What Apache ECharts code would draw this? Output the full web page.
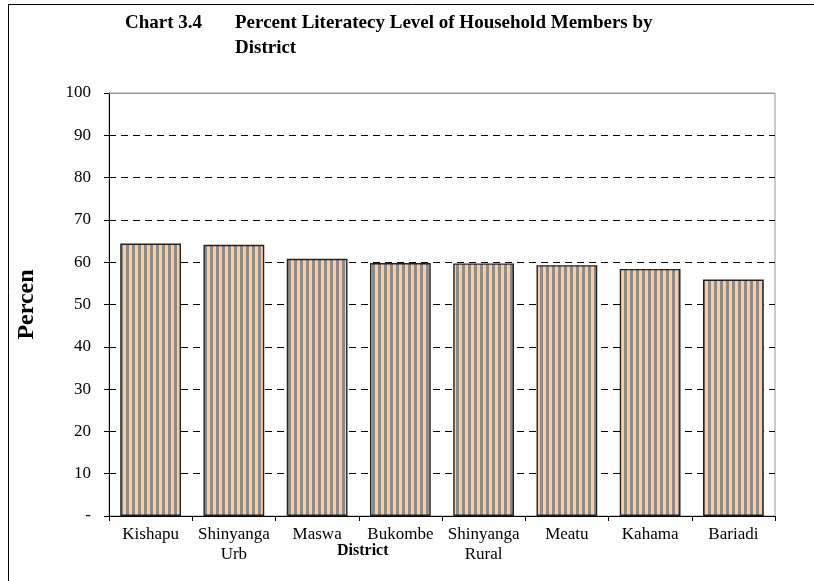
<!DOCTYPE html>
<html>
<head>
<meta charset="utf-8">
<script src="https://cdn.jsdelivr.net/npm/echarts@6/dist/echarts.min.js"></script>
<style>
  html, body { margin: 0; padding: 0; background: #fff; }
  #main { width: 814px; height: 581px; }
</style>
</head>
<body>
<div id="main"></div>
<script>
// data
const districts = ['Kishapu', 'Shinyanga\nUrb', 'Maswa', 'Bukombe', 'Shinyanga\nRural', 'Meatu', 'Kahama', 'Bariadi']
const literacy = [64.4, 64.1, 60.8, 59.8, 59.7, 59.3, 58.4, 55.9]
const yTicks = [0, 10, 20, 30, 40, 50, 60, 70, 80, 90, 100]

const serif = '"Liberation Serif", "Times New Roman", serif'

// vertical stripes: grey / peach
function stripes() {
  const c = document.createElement('canvas')
  c.width = 6
  c.height = 10
  const ctx = c.getContext('2d')
  ctx.fillStyle = '#FFCC99'
  ctx.fillRect(0, 0, 6, 10)
  ctx.fillStyle = '#8C8C8C'
  ctx.fillRect(0, 0, 3, 10)
  return c
}

const chart = echarts.init(document.getElementById('main'), null, { renderer: 'canvas' })

const option = {
  backgroundColor: '#fff',
  animation: false,
  title: [
    {
      text: 'Chart 3.4',
      left: 125, top: 11, padding: 0,
      textStyle: { fontFamily: serif, fontSize: 19, fontWeight: 'bold', color: '#000', lineHeight: 25 }
    },
    {
      text: 'Percent Literatecy Level of Household Members by\nDistrict',
      left: 235, top: 11, padding: 0,
      textStyle: { fontFamily: serif, fontSize: 19, fontWeight: 'bold', color: '#000', lineHeight: 25 }
    }
  ],
  graphic: [
    {
      type: 'polyline',
      shape: { points: [[8.5, 581], [8.5, 4.5], [814, 4.5]] },
      style: { fill: 'none', stroke: '#000', lineWidth: 1 },
      silent: true
    },
    {
      // top edge of the plot is a plain grey border, not a dashed gridline
      type: 'line',
      shape: { x1: 109, y1: 93.5, x2: 775, y2: 93.5 },
      style: { stroke: '#999', lineWidth: 1 },
      z: 10,
      silent: true
    },
    {
      type: 'text',
      left: 337, top: 543,
      style: { text: 'District', font: 'bold 16px ' + serif, fill: '#000' }
    }
  ],
  grid: {
    left: 109, right: 39, top: 93, bottom: 65,
    show: true, borderColor: '#999', borderWidth: 1
  },
  xAxis: {
    type: 'category',
    data: districts,
    axisLine: { lineStyle: { color: '#000', width: 1 } },
    axisTick: { show: true, alignWithLabel: false, length: 5, lineStyle: { color: '#000' } },
    axisLabel: {
      interval: 0, hideOverlap: false,
      fontFamily: serif, fontSize: 17, color: '#000', margin: 9, lineHeight: 20
    }
  },
  yAxis: {
    type: 'value',
    min: 0, max: 100, interval: 10,
    name: 'Percen',
    nameLocation: 'middle',
    nameGap: 70,
    nameTextStyle: { fontFamily: serif, fontSize: 24, fontWeight: 'bold', color: '#000' },
    axisLine: { show: true, lineStyle: { color: '#000', width: 1 } },
    axisTick: { show: true, length: 5, lineStyle: { color: '#000' } },
    axisLabel: {
      fontFamily: serif, fontSize: 17, color: '#000', margin: 18,
      formatter: v => (yTicks.indexOf(v) === 0 ? '-' : String(v))
    },
    splitLine: { show: true, lineStyle: { color: '#000', type: [7, 5], width: 1 } }
  },
  series: [
    {
      type: 'bar',
      data: literacy,
      barCategoryGap: '27%',
      itemStyle: {
        color: { image: stripes(), repeat: 'repeat' },
        borderColor: '#222',
        borderWidth: 1.4
      }
    }
  ]
}

chart.setOption(option)
</script>
</body>
</html>
